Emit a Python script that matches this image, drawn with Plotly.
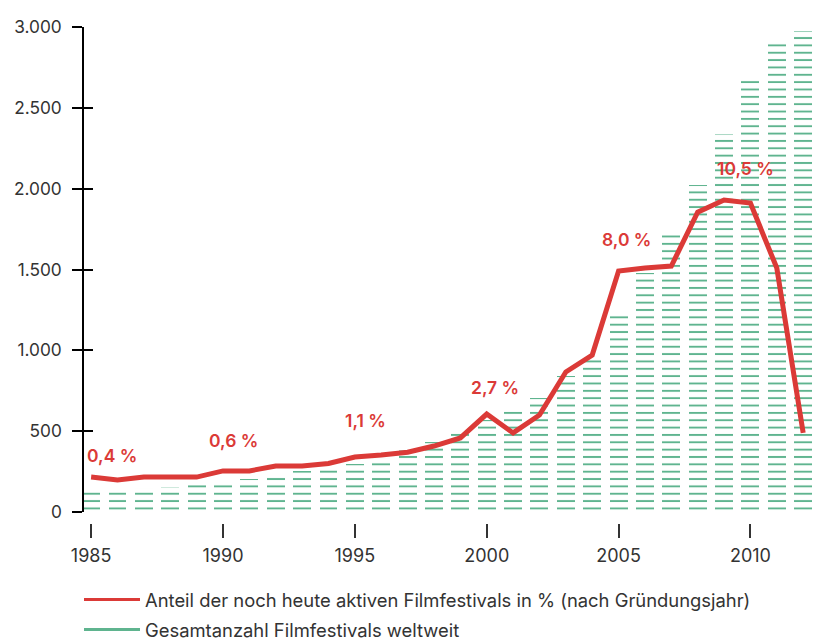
import plotly.graph_objects as go

years = list(range(1985, 2013))
total_festivals = [124, 132, 148, 155, 167, 186, 202, 229, 254, 285, 300, 334, 383, 433, 489,
                   569, 631, 705, 841, 952, 1224, 1478, 1713, 2022, 2338, 2675, 2900, 2975]
active_share_line = [216, 198, 216, 216, 216, 254, 254, 285, 285, 300, 340, 352, 370, 408, 458,
                     606, 489, 600, 866, 971, 1490, 1509, 1521, 1855, 1930, 1911, 1509, 489]

label_years = [1985.8, 1990.4, 1995.4, 2000.3, 2005.3, 2009.8]
label_values = [352, 445, 569, 773, 1688, 2127]
label_texts = ["0,4 %", "0,6 %", "1,1 %", "2,7 %", "8,0 %", "10,5 %"]

y_ticks = [0, 500, 1000, 1500, 2000, 2500, 3000]
x_ticks = [1985, 1990, 1995, 2000, 2005, 2010]

RED = "#db3a37"
GREEN = "#5fb48f"
TEXT = "#333333"
FONT = "Inter"

fig = go.Figure()

fig.add_trace(go.Bar(
    x=years, y=total_festivals, width=0.68,
    marker=dict(color=GREEN, line=dict(width=0),
                pattern=dict(shape="-", size=7.35, solidity=0.26, fillmode="replace")),
    showlegend=False, hoverinfo="skip",
))

fig.add_trace(go.Scatter(
    x=years, y=active_share_line, mode="lines", yaxis="y2",
    line=dict(color=RED, width=5), showlegend=False, hoverinfo="skip",
))

# legend entries
fig.add_trace(go.Scatter(
    x=[None], y=[None], mode="lines", line=dict(color=RED, width=3),
    name="Anteil der noch heute aktiven Filmfestivals in % (nach Gründungsjahr)",
    legendgroup="a",
))
fig.add_trace(go.Scatter(
    x=[None], y=[None], mode="lines", line=dict(color=GREEN, width=3),
    name="Gesamtanzahl Filmfestivals weltweit",
    legendgroup="b",
))

for xv, yv, t in zip(label_years, label_values, label_texts):
    fig.add_annotation(x=xv, y=yv, text=t, showarrow=False, yref="y2",
                       font=dict(family=FONT, size=17.5, color=RED, weight=600))

plot_bottom = 544
plot_h = 517
plot_w = 735
ydom0 = (plot_bottom - 512) / plot_h
xpos = (plot_bottom - 523) / plot_h

yaxis_common = dict(range=[0, 3000], domain=[ydom0, 1], tickvals=y_ticks, automargin=False,
                    showgrid=False, zeroline=False, tickcolor="black", tickwidth=1.5)

fig.update_layout(
    width=819, height=644,
    margin=dict(l=84, r=0, t=27, b=644 - plot_bottom, autoexpand=False),
    paper_bgcolor="white", plot_bgcolor="white",
    separators=",.",
    font=dict(family=FONT, size=16, color=TEXT),
    bargap=0,
    xaxis=dict(range=[1984.73, 2012.6], tickvals=x_ticks, ticks="outside", ticklen=14,
               tickcolor="#333333", tickwidth=1.5, showline=False, showgrid=False,
               zeroline=False, anchor="free", position=xpos, ticklabelstandoff=2,
               automargin=False, tickfont=dict(family=FONT, size=18, color=TEXT)),
    yaxis=dict(**yaxis_common, ticks="outside", ticklen=10, showline=True,
               linecolor="black", linewidth=1.5, tickformat=",d", ticklabelstandoff=7,
               tickfont=dict(family=FONT, size=17.3, color=TEXT)),
    yaxis2=dict(**yaxis_common, overlaying="y", side="left", anchor="x", ticks="inside",
                ticklen=9, showticklabels=False, showline=False),
    legend=dict(x=-5 / plot_w, xanchor="left", y=(plot_bottom - 581) / plot_h, yanchor="top",
                traceorder="grouped", tracegroupgap=3,
                font=dict(family=FONT, size=18.4, color=TEXT), itemwidth=56),
)

fig.write_html("out.html", config={"displayModeBar": False},
               post_script="document.body.style.margin='0';document.body.style.overflow='hidden';")
